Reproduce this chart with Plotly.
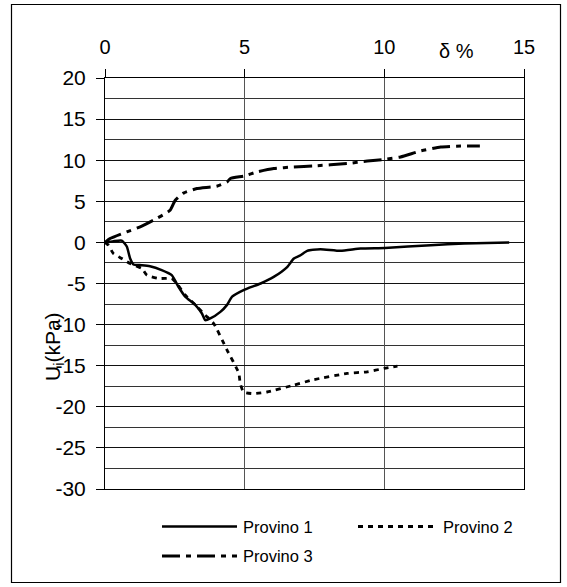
import plotly.graph_objects as go

# Deformazione (%) e sovrappressione interstiziale U_i (kPa) per i tre provini
x_p1 = [0, 0.3, 0.6, 0.78, 0.9, 1.02, 1.32, 1.61, 2.03, 2.39, 2.63, 2.87, 3.23, 3.47, 3.59,
        3.77, 4.13, 4.37, 4.55, 4.96, 5.57, 6.04, 6.52, 6.76, 7.0, 7.24, 7.71, 8.43, 9.15,
        10.02, 11.66, 12.86, 14.47]
y_p1 = [0, 0.15, 0.22, -0.5, -1.96, -2.69, -2.77, -2.9, -3.38, -3.99, -5.4, -6.6, -7.6, -8.65,
        -9.46, -9.25, -8.45, -7.6, -6.6, -5.8, -5.0, -4.2, -3.0, -1.96, -1.56, -1.03, -0.83,
        -1.03, -0.75, -0.67, -0.34, -0.14, -0.01]

x_p2 = [0, 0.12, 0.3, 0.6, 0.9, 1.32, 1.5, 1.91, 2.39, 2.57, 2.87, 3.23, 3.59, 3.89, 4.37,
        4.79, 4.84, 4.96, 5.32, 5.8, 6.76, 7.47, 8.67, 9.39, 9.99, 10.47]
y_p2 = [0, -0.34, -1.35, -1.96, -2.57, -3.17, -3.99, -4.39, -4.39, -5.0, -6.4, -7.6, -8.85,
        -9.86, -13.1, -15.9, -17.15, -18.2, -18.4, -18.2, -17.36, -16.7, -15.94, -15.74,
        -15.33, -15.05]

x_p3 = [0, 0.18, 0.78, 1.26, 1.73, 2.33, 2.51, 2.81, 3.29, 4.0, 4.37, 4.49, 5.0, 5.44, 6.04,
        6.76, 7.47, 8.67, 9.39, 10.02, 10.58, 11.3, 12.02, 12.74, 13.42]
y_p3 = [0, 0.47, 1.28, 1.9, 2.7, 3.9, 5.1, 6.0, 6.55, 6.83, 7.36, 7.77, 8.09, 8.57, 8.98,
        9.18, 9.3, 9.59, 9.9, 10.11, 10.39, 11.12, 11.6, 11.73, 11.73]

x_ticks = [0, 5, 10, 15]
y_ticks = [20, 15, 10, 5, 0, -5, -10, -15, -20, -25, -30]
y_tick_text = ["20", "15", "10", "5", "0", "-5", "-10", "-15", "-20", "-25", "-30"]

series_names = ["Provino 1", "Provino 2", "Provino 3"]
dash_styles = ["solid", "5px,5px", "18px,6px,5px,6px"]
line_widths = [2.5, 2.8, 3]

W, H = 567, 587
L, R, T, B = 105, 524, 78, 489   # plot area in pixels
FONT = "Arial, 'Liberation Sans', sans-serif"


def px_x(p):
    return (p - L) / (R - L)


def px_y(p):
    return (B - p) / (B - T)


fig = go.Figure()
for xs, ys, name, dash, w in zip([x_p1, x_p2, x_p3], [y_p1, y_p2, y_p3],
                                 series_names, dash_styles, line_widths):
    fig.add_trace(go.Scatter(x=xs, y=ys, mode="lines", name=name,
                             line=dict(color="black", width=w, dash=dash,
                                       shape="spline", smoothing=0.5),
                             showlegend=False))

shapes = [
    # outer frame
    dict(type="rect", xref="paper", yref="paper",
         x0=px_x(11.5), x1=px_x(560.5), y0=px_y(582.5), y1=px_y(4.5),
         line=dict(color="black", width=1.2)),
]
annotations = [
    dict(text="U<sub>i</sub>(kPa)", xref="paper", yref="paper",
         x=px_x(54), y=px_y(347), textangle=-90, showarrow=False,
         xanchor="center", yanchor="middle", font=dict(size=21)),
    dict(text="δ %", xref="x", yref="paper", x=12.57, y=px_y(51),
         showarrow=False, xanchor="center", yanchor="middle", font=dict(size=20)),
]

# legend keys
legend_pos = [(162, 237, 526.5), (358, 437, 526.5), (162, 237, 556)]
for (x0, x1, yy), name, dash, w in zip(legend_pos, series_names, dash_styles, line_widths):
    shapes.append(dict(type="line", xref="paper", yref="paper",
                       x0=px_x(x0), x1=px_x(x1), y0=px_y(yy), y1=px_y(yy),
                       line=dict(color="black", width=w, dash=dash)))
    annotations.append(dict(text=name, xref="paper", yref="paper",
                            x=px_x(x1 + 4), y=px_y(yy), showarrow=False,
                            xanchor="left", yanchor="middle", font=dict(size=16.5)))

fig.update_layout(
    width=W, height=H,
    margin=dict(l=L, r=W - R, t=T, b=H - B, pad=0),
    paper_bgcolor="white", plot_bgcolor="white",
    font=dict(family=FONT, color="black", size=20),
    showlegend=False,
    shapes=shapes, annotations=annotations,
    xaxis=dict(range=[0, 15], side="top", tickvals=x_ticks, ticks="outside", ticklen=8,
               tickcolor="black", showline=True, linecolor="black", mirror=True,
               showgrid=True, gridcolor="#555555", gridwidth=1, zeroline=False,
               tickfont=dict(size=20), ticklabelstandoff=7),
    yaxis=dict(range=[-30, 20], tickvals=y_ticks, ticktext=y_tick_text,
               ticks="outside", ticklen=8,
               tickcolor="black", showline=True, linecolor="black", mirror=True,
               showgrid=True, gridcolor="#111111", gridwidth=1,
               zeroline=True, zerolinecolor="#111111", zerolinewidth=1,
               minor=dict(dtick=2.5, tick0=0, showgrid=True, gridcolor="#333333",
                          gridwidth=1, ticks=""),
               tickfont=dict(size=21), ticklabelstandoff=6),
)

fig.write_html("out.html")
